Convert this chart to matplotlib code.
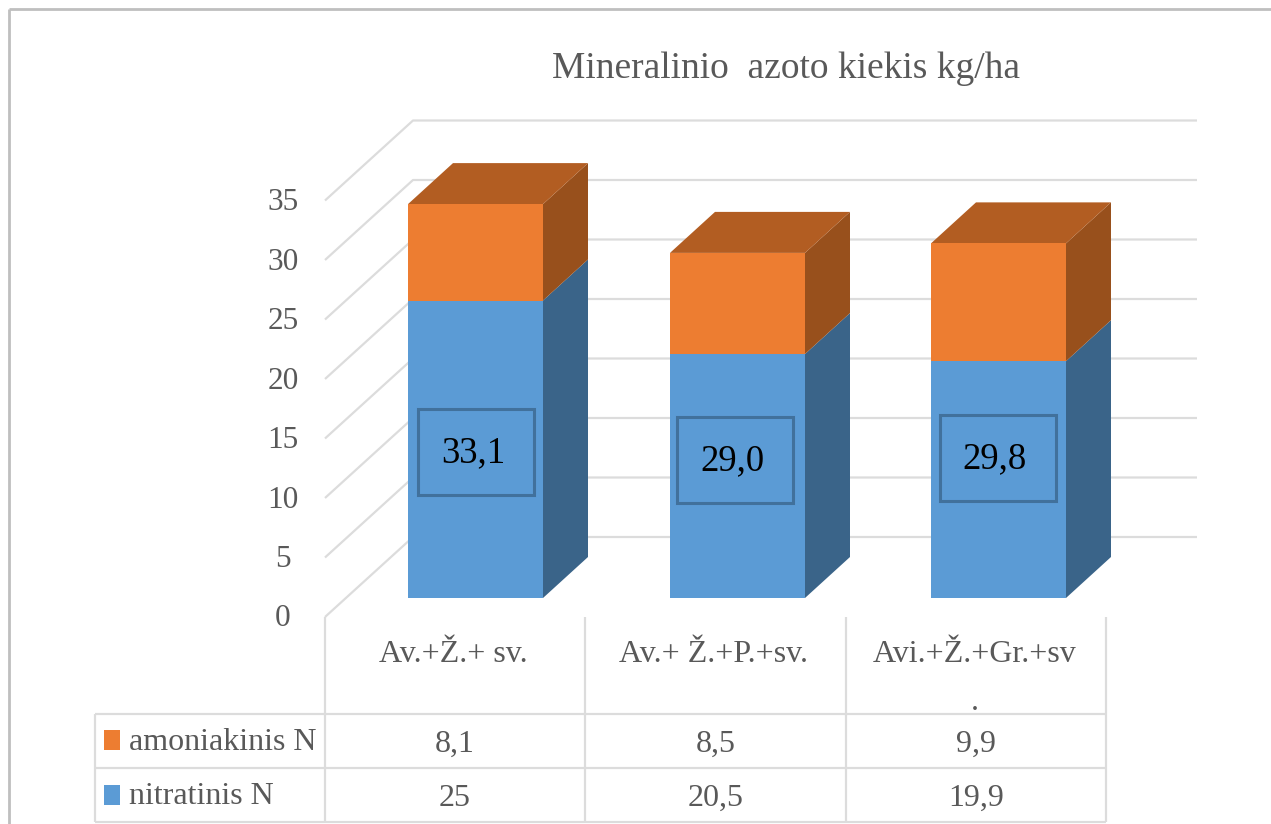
# -*- coding: utf-8 -*-
"""Stacked 3D-look columns of mineral nitrogen with a data table underneath."""

import matplotlib
matplotlib.use("Agg")
import matplotlib.pyplot as plt
from matplotlib.patches import Polygon, Rectangle

categories = ["Av.+Ž.+ sv.", "Av.+ Ž.+P.+sv.", "Avi.+Ž.+Gr.+sv\n."]
nitratinis = [25, 20.5, 19.9]
amoniakinis = [8.1, 8.5, 9.9]
nitratinis_txt = ["25", "20,5", "19,9"]
amoniakinis_txt = ["8,1", "8,5", "9,9"]
totals_txt = ["33,1", "29,0", "29,8"]
y_ticks = [0, 5, 10, 15, 20, 25, 30, 35]

UNIT = 11.9          # px per kg/ha
BASE = 598           # bar bottom
DX, DY = 45, -41     # bar depth
GRID = "#dcdcdc"
TXT = "#595959"
BLUE, BLUE_SIDE = "#5b9bd5", "#3a6489"
ORANGE, ORANGE_TOP, ORANGE_SIDE = "#ed7d31", "#b25d22", "#98501c"
SERIF = "Liberation Serif"

plt.rcParams["font.family"] = [SERIF, "DejaVu Serif"]

fig = plt.figure(figsize=(12.71, 8.24), dpi=100)
ax = fig.add_axes([0, 0, 1, 1])
ax.set_xlim(0, 1271)
ax.set_ylim(824, 0)
ax.axis("off")


def line(xs, ys, color=GRID, lw=1.6, z=1):
    ax.plot(xs, ys, color=color, lw=lw, zorder=z, solid_capstyle="butt")


# outer frame
line([9, 9], [9, 824], "#bfbfbf", 2)
line([9, 1271], [9, 9], "#bfbfbf", 2)

ax.text(786, 69, "Mineralinio  azoto kiekis kg/ha", fontsize=27, color=TXT,
        ha="center", va="center")

# back wall and side wall grid
for t in y_ticks:
    back = 537 - t * UNIT
    front = 617 - t * UNIT
    line([325, 413, 1197], [front, back, back])
    ax.text(283, front + 2, str(t), fontsize=22.5, color=TXT, ha="center", va="center")

# columns
lefts = [408, 670, 931]
WIDTH = 135
for i, left in enumerate(lefts):
    right = left + WIDTH
    n_top = BASE - nitratinis[i] * UNIT
    a_top = BASE - (nitratinis[i] + amoniakinis[i]) * UNIT

    ax.add_patch(Polygon([(right, BASE), (right + DX, BASE + DY),
                          (right + DX, n_top + DY), (right, n_top)],
                         fc=BLUE_SIDE, ec="none", zorder=3))
    ax.add_patch(Polygon([(right, n_top), (right + DX, n_top + DY),
                          (right + DX, a_top + DY), (right, a_top)],
                         fc=ORANGE_SIDE, ec="none", zorder=3))
    ax.add_patch(Polygon([(left, a_top), (right, a_top),
                          (right + DX, a_top + DY), (left + DX, a_top + DY)],
                         fc=ORANGE_TOP, ec="none", zorder=3))
    ax.add_patch(Rectangle((left, n_top), WIDTH, BASE - n_top, fc=BLUE, ec="none", zorder=4))
    ax.add_patch(Rectangle((left, a_top), WIDTH, n_top - a_top, fc=ORANGE, ec="none", zorder=4))

# total boxes on the blue part
box_lefts = [418, 677, 940]
box_tops = [409, 417, 415]
for x0, y0, label in zip(box_lefts, box_tops, totals_txt):
    ax.add_patch(Rectangle((x0, y0), 116, 86, fc="none", ec="#41719c", lw=2.2, zorder=5))
    ax.text(x0 + 55, y0 + 44, label, fontsize=26.5, color="black",
            ha="center", va="center", zorder=6)

# data table
cols = [325, 585, 846, 1106]
for x in cols:
    line([x, x], [617, 822])
line([95, 95], [714, 822])
for y in [714, 768, 822]:
    line([95, 1106], [y, y])

for i, cat in enumerate(categories):
    cx = (cols[i] + cols[i + 1]) / 2
    if "\n" in cat:
        first, second = cat.split("\n")
        ax.text(cx - 1, 654, first, fontsize=23, color=TXT, ha="center", va="center")
        ax.text(cx - 1, 703, second, fontsize=23, color=TXT, ha="center", va="center")
    else:
        ax.text(cx - 2, 654, cat, fontsize=23, color=TXT, ha="center", va="center")
    ax.text(cx, 744, amoniakinis_txt[i], fontsize=23, color=TXT, ha="center", va="center")
    ax.text(cx, 798, nitratinis_txt[i], fontsize=23, color=TXT, ha="center", va="center")

ax.add_patch(Rectangle((104, 730), 16, 20, fc=ORANGE, ec="none"))
ax.add_patch(Rectangle((104, 785), 16, 20, fc=BLUE, ec="none"))
ax.text(129, 743, "amoniakinis N", fontsize=23, color=TXT, ha="left", va="center")
ax.text(129, 797, "nitratinis N", fontsize=23, color=TXT, ha="left", va="center")

fig.savefig("out.png", dpi=100, facecolor="white")
